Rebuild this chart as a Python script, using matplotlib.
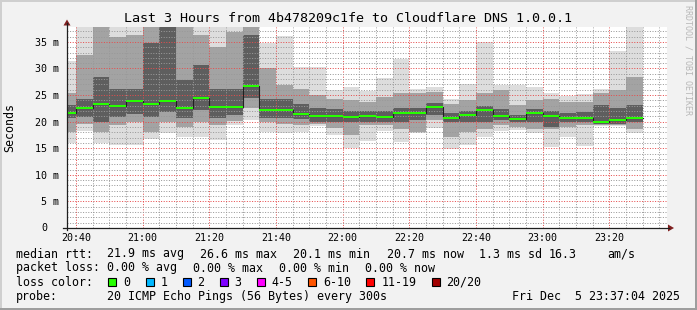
import numpy as np
import matplotlib.pyplot as plt
from matplotlib.patches import Rectangle, Polygon
from matplotlib.lines import Line2D

plt.rcParams['font.family'] = ['DejaVu Sans Mono']

# 5 minute steps, first one starts 20:35 (minutes counted from 20:00)
startMinute = 35
stepMinutes = 5

# smoke envelope per step (ms), outer -> inner, tops above 38 are clipped by the canvas
pingMin   = [15.9, 18.3, 15.9, 15.6, 15.6, 16.7, 17.9, 17.1, 17.1, 16.6, 19.4, 20.4, 18.1, 17.8, 18.1, 19.1, 17.5, 15.0,
             16.4, 18.3, 16.1, 17.8, 18.8, 14.8, 15.6, 17.1, 18.3, 18.4, 17.9, 15.3, 17.2, 15.4, 19.2, 19.1, 17.9]
pingLow2  = [18.1, 19.5, 18.1, 19.3, 19.9, 18.1, 19.9, 19.0, 19.9, 19.3, 20.2, 22.5, 19.9, 19.6, 19.3, 19.5, 18.9, 17.4,
             19.3, 19.3, 18.7, 18.1, 20.3, 17.1, 18.1, 18.7, 19.3, 19.0, 18.7, 18.7, 19.0, 19.3, 19.4, 19.3, 18.7]
pingLow1  = [20.6, 20.9, 19.9, 20.9, 21.5, 20.9, 21.8, 20.6, 22.1, 20.6, 21.2, 24.5, 20.6, 20.6, 20.5, 20.0, 20.0, 19.9,
             20.0, 19.9, 19.9, 20.3, 21.2, 19.9, 19.9, 19.9, 20.3, 19.9, 19.9, 19.0, 19.9, 19.9, 19.6, 19.6, 19.9]
medianRtt = [21.7, 22.6, 23.3, 23.0, 23.9, 23.3, 23.9, 22.6, 24.5, 22.8, 22.8, 26.7, 22.1, 22.1, 21.5, 21.1, 21.1, 20.9,
             21.1, 20.9, 21.7, 21.7, 22.8, 20.6, 21.3, 22.1, 21.1, 20.5, 21.7, 21.1, 20.7, 20.6, 20.0, 20.3, 20.7]
pingHigh1 = [23.1, 24.3, 28.4, 26.2, 26.2, 34.7, 40.0, 27.8, 30.6, 26.2, 26.2, 36.3, 24.3, 24.3, 23.4, 22.6, 22.3, 22.0,
             22.0, 22.0, 22.6, 22.6, 23.6, 21.6, 22.0, 22.9, 22.3, 21.2, 22.3, 22.0, 21.6, 21.8, 23.1, 22.5, 23.1]
pingHigh2 = [25.3, 32.5, 40.0, 36.0, 36.3, 40.0, 40.0, 40.0, 36.3, 34.1, 36.9, 40.0, 30.0, 26.9, 26.2, 25.0, 24.3, 24.0,
             23.7, 24.7, 25.3, 25.3, 25.6, 23.4, 24.0, 25.3, 25.9, 23.1, 24.0, 24.3, 23.7, 23.7, 25.3, 25.9, 28.4]
pingMax   = [31.4, 40.0, 40.0, 40.0, 40.0, 40.0, 40.0, 40.0, 40.0, 40.0, 40.0, 40.0, 34.7, 36.1, 30.3, 30.3, 25.9, 26.5,
             25.8, 28.2, 31.8, 26.2, 26.5, 24.3, 27.1, 34.9, 26.9, 26.9, 26.5, 25.3, 24.9, 25.2, 26.2, 33.2, 40.0]

timeTicks = [40, 60, 80, 100, 120, 140, 160, 180, 200]
timeLabels = ["20:40", "21:00", "21:20", "21:40", "22:00", "22:20", "22:40", "23:00", "23:20"]
rttTicks = [0, 5, 10, 15, 20, 25, 30, 35]
rttLabels = ["", "5 m", "10 m", "15 m", "20 m", "25 m", "30 m", "35 m"]

medianAvg, medianMax, medianMin, medianNow, medianSd, amPerSec = 21.9, 26.6, 20.1, 20.7, 1.3, 16.3
lossAvg, lossMax, lossMin, lossNow = 0.00, 0.00, 0.00, 0.00
lossLabels = ["0", "1", "2", "3", "4-5", "6-10", "11-19", "20/20"]
lossColors = ["#26ff00", "#00b8ff", "#0059ff", "#7e00ff", "#ff00ff", "#ff5500", "#ff0000", "#a10000"]

W, H = 697, 310
def fx(px):
    return px / W
def fy(py):
    return 1 - py / H

fig = plt.figure(figsize=(W / 100, H / 100), dpi=100, facecolor='#f2f2f2')

# 3d frame round the image
fig.add_artist(Rectangle((0, fy(2)), 1, fy(0) - fy(2), color='#cfcfcf', lw=0))
fig.add_artist(Rectangle((0, 0), fx(2), 1, color='#cfcfcf', lw=0))
fig.add_artist(Rectangle((0, 0), 1, fy(308), color='#9e9e9e', lw=0))
fig.add_artist(Rectangle((fx(695), 0), fx(2), 1, color='#9e9e9e', lw=0))

ax = fig.add_axes([fx(67), fy(228), (667 - 67) / W, (228 - 27) / H])
ax.set_facecolor('white')
ax.set_xlim(37.3, 217.3)
ax.set_ylim(0, 37.8)

barX = startMinute + stepMinutes * np.arange(len(medianRtt))
bands = [(pingMin, pingMax, '#dddddd'), (pingLow2, pingHigh2, '#a3a3a3'), (pingLow1, pingHigh1, '#5e5e5e')]
for lo, hi, col in bands:
    ax.bar(barX, np.array(hi) - np.array(lo), bottom=lo, width=stepMinutes, align='edge',
           color=col, linewidth=0, zorder=1)

# median: dark step line with the loss coloured strip on it
stepX = np.append(barX, barX[-1] + stepMinutes)
stepY = np.append(medianRtt, medianRtt[-1])
ax.step(stepX, stepY, where='post', color='#202020', lw=0.8, zorder=3)
ax.bar(barX, 0.38, bottom=np.array(medianRtt) - 0.19, width=stepMinutes, align='edge',
       color=lossColors[0], linewidth=0, zorder=4)

# grid
minorX = [m for m in range(40, 218, 5) if m not in timeTicks]
minorY = [v for v in range(1, 38) if v % 5 != 0]
ax.set_xticks(timeTicks)
ax.set_xticklabels(timeLabels)
ax.set_xticks(minorX, minor=True)
ax.set_yticks(rttTicks)
ax.set_yticklabels(rttLabels)
ax.set_yticks(minorY, minor=True)
ax.set_axisbelow(False)
ax.grid(True, which='minor', color=(0.6, 0.6, 0.6, 0.45), linestyle=(0, (1, 1.6)), linewidth=0.72)
ax.grid(True, which='major', color=(0.9, 0.3, 0.3, 0.45), linestyle=(0, (1, 1.6)), linewidth=0.72)
ax.tick_params(which='both', length=0, labelsize=7.2)
ax.tick_params(axis='x', pad=3.5)
ax.tick_params(axis='y', pad=5.5)
ax.text(-(67 - 47.5) / 600, 0, "0", transform=ax.get_yaxis_transform(), ha='right', va='center', fontsize=7.2)
for s in ax.spines.values():
    s.set_visible(False)

ax.set_ylabel("Seconds", fontsize=8.4)
ax.yaxis.set_label_coords(-(67 - 16) / 600, 0.5)

# axes with arrows
axisCol = (0.12, 0.12, 0.12)
arrowCol = (0.5, 0.12, 0.12)
fig.add_artist(Line2D([fx(67), fx(67)], [fy(230), fy(23)], color=axisCol, lw=0.9))
fig.add_artist(Line2D([fx(63), fx(669)], [fy(228), fy(228)], color=axisCol, lw=0.9))
fig.add_artist(Polygon([[fx(63.5), fy(25.5)], [fx(70.5), fy(25.5)], [fx(67), fy(19.5)]], color=arrowCol, lw=0))
fig.add_artist(Polygon([[fx(668), fy(224.5)], [fx(668), fy(231.5)], [fx(674), fy(228)]], color=arrowCol, lw=0))

fig.text(fx(348.5), fy(19), "Last 3 Hours from 4b478209c1fe to Cloudflare DNS 1.0.0.1",
         ha='center', va='center', fontsize=9.6)
fig.text(fx(688), fy(60), "RRDTOOL / TOBI OETIKER", rotation=270, ha='center', va='center',
         fontsize=6, color='#b8b8b8')

# legend block
legSize = 8.4
row1, row2, row3, row4 = 254, 268, 282, 296.5
fig.text(fx(16), fy(row1), "median rtt:", va='center', fontsize=legSize)
row1Parts = [(107.3, "%.1f ms avg" % medianAvg), (200, "%.1f ms max" % medianMax),
             (293.3, "%.1f ms min" % medianMin), (386.7, "%.1f ms now" % medianNow),
             (479.3, "%.1f ms sd" % medianSd), (548.3, "%.1f" % amPerSec), (607.3, "am/s")]
for x, t in row1Parts:
    fig.text(fx(x), fy(row1), t, va='center', fontsize=legSize)

fig.text(fx(16), fy(row2), "packet loss:", va='center', fontsize=legSize)
row2Parts = [(107.3, "%.2f %% avg" % lossAvg), (193.3, "%.2f %% max" % lossMax),
             (279.3, "%.2f %% min" % lossMin), (365, "%.2f %% now" % lossNow)]
for x, t in row2Parts:
    fig.text(fx(x), fy(row2), t, va='center', fontsize=legSize)

fig.text(fx(16), fy(row3), "loss color:", va='center', fontsize=legSize)
charW = 7.0
cursor = 108.3
for lbl, col in zip(lossLabels, lossColors):
    fig.add_artist(Rectangle((fx(cursor), fy(row3 + 4)), fx(8), fy(0) - fy(8),
                             facecolor=col, edgecolor='black', lw=0.8))
    fig.text(fx(cursor + 14.7), fy(row3), lbl, va='center', fontsize=legSize)
    cursor += 14.7 + len(lbl) * charW + 15.5

fig.text(fx(16), fy(row4), "probe:", va='center', fontsize=legSize)
fig.text(fx(107.3), fy(row4), "20 ICMP Echo Pings (56 Bytes) every 300s", va='center', fontsize=legSize)
fig.text(fx(680.5), fy(row4), "Fri Dec  5 23:37:04 2025", va='center', ha='right', fontsize=legSize)

fig.savefig("out.png", dpi=100, facecolor=fig.get_facecolor())
